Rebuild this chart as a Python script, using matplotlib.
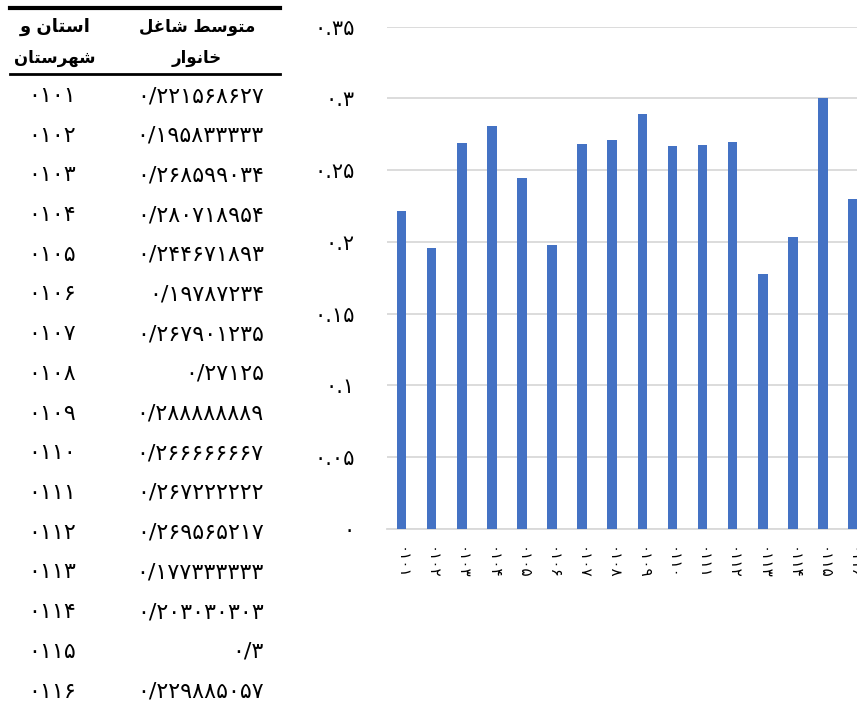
import matplotlib
matplotlib.use("Agg")
import matplotlib.pyplot as plt
from matplotlib.ticker import FuncFormatter

plt.rcParams['font.family'] = ['DejaVu Sans']

# data
codes = ['0101', '0102', '0103', '0104', '0105', '0106', '0107', '0108',
         '0109', '0110', '0111', '0112', '0113', '0114', '0115', '0116']
values = [0.221568627, 0.195833333, 0.268599034, 0.280718954, 0.244671893,
          0.19787234, 0.267901235, 0.27125, 0.288888889, 0.266666667,
          0.267222222, 0.269565217, 0.177333333, 0.203030303, 0.3, 0.229885057]
col_value = 'متوسط شاغل'
col_value2 = 'خانوار'
col_code = 'استان و'
col_code2 = 'شهرستان'
yticks = [0, 0.05, 0.1, 0.15, 0.2, 0.25, 0.3, 0.35]

FA = str.maketrans('0123456789', '۰۱۲۳۴۵۶۷۸۹')

# arabic presentation forms: isolated, final, initial, medial
FORMS = {
    'ا': ('\uFE8D', '\uFE8E', None, None),
    'ت': ('\uFE95', '\uFE96', '\uFE97', '\uFE98'),
    'خ': ('\uFEA5', '\uFEA6', '\uFEA7', '\uFEA8'),
    'ر': ('\uFEAD', '\uFEAE', None, None),
    'س': ('\uFEB1', '\uFEB2', '\uFEB3', '\uFEB4'),
    'ش': ('\uFEB5', '\uFEB6', '\uFEB7', '\uFEB8'),
    'ط': ('\uFEC1', '\uFEC2', '\uFEC3', '\uFEC4'),
    'غ': ('\uFECD', '\uFECE', '\uFECF', '\uFED0'),
    'ل': ('\uFEDD', '\uFEDE', '\uFEDF', '\uFEE0'),
    'م': ('\uFEE1', '\uFEE2', '\uFEE3', '\uFEE4'),
    'ن': ('\uFEE5', '\uFEE6', '\uFEE7', '\uFEE8'),
    'ه': ('\uFEE9', '\uFEEA', '\uFEEB', '\uFEEC'),
    'و': ('\uFEED', '\uFEEE', None, None),
}
NO_NEXT = set('اردو')


def shape(text):
    out = []
    for i, ch in enumerate(text):
        if ch not in FORMS:
            out.append(ch)
            continue
        prev = text[i - 1] if i > 0 else ''
        nxt = text[i + 1] if i + 1 < len(text) else ''
        jp = prev in FORMS and prev not in NO_NEXT
        jn = nxt in FORMS and ch not in NO_NEXT
        iso, fin, ini, med = FORMS[ch]
        if jp and jn:
            out.append(med)
        elif jp:
            out.append(fin)
        elif jn:
            out.append(ini)
        else:
            out.append(iso)
    return ''.join(out)[::-1]


W, H = 857, 708
fig = plt.figure(figsize=(W / 100, H / 100), dpi=100)

# --- bar chart (runs off the right edge like the source) ---
left_px, bottom_px, top_px = 386.5, 528.6, 26.7
step = 30.1
right_px = left_px + step * 16
ax = fig.add_axes([left_px / W, (H - bottom_px) / H,
                   (right_px - left_px) / W, (bottom_px - top_px) / H])
x = list(range(len(codes)))
ax.bar(x, values, width=0.32, color='#4472C4', zorder=3)
ax.set_xlim(-0.5, 15.5)
ax.set_ylim(0, 0.35)
ax.set_yticks(yticks)
ax.yaxis.set_major_formatter(FuncFormatter(lambda v, p: ('%g' % round(v, 2)).translate(FA)))
ax.set_xticks(x)
ax.set_xticklabels([c.translate(FA) for c in codes], rotation=-90, fontsize=11)
ax.tick_params(axis='x', length=0, pad=13)
ax.tick_params(axis='y', length=0, pad=23, labelsize=15)
ax.grid(axis='y', color='#d9d9d9', linewidth=1.3, zorder=0)
for s in ['top', 'right', 'left']:
    ax.spines[s].set_visible(False)
ax.spines['bottom'].set_color('#d9d9d9')
ax.spines['bottom'].set_linewidth(1.3)

# --- table ---
tb = fig.add_axes([0, 0, 1, 1])
tb.set_xlim(0, W)
tb.set_ylim(H, 0)
tb.axis('off')
tb.plot([10, 280], [8, 8], color='black', lw=3)
tb.plot([10, 280], [74, 74], color='black', lw=2)
tb.text(197, 27, shape(col_value), ha='center', va='center', fontsize=12, fontweight='bold')
tb.text(197, 58, shape(col_value2), ha='center', va='center', fontsize=12, fontweight='bold')
tb.text(55, 27, shape(col_code), ha='center', va='center', fontsize=13, fontweight='bold')
tb.text(55, 58, shape(col_code2), ha='center', va='center', fontsize=12, fontweight='bold')
for i, (c, v) in enumerate(zip(codes, values)):
    y = 96 + 39.7 * i
    tb.text(52, y, c.translate(FA), ha='center', va='center', fontsize=16)
    tb.text(264, y, repr(v).replace('.', '/').translate(FA), ha='right', va='center', fontsize=16)

fig.savefig('out.png', dpi=100)
